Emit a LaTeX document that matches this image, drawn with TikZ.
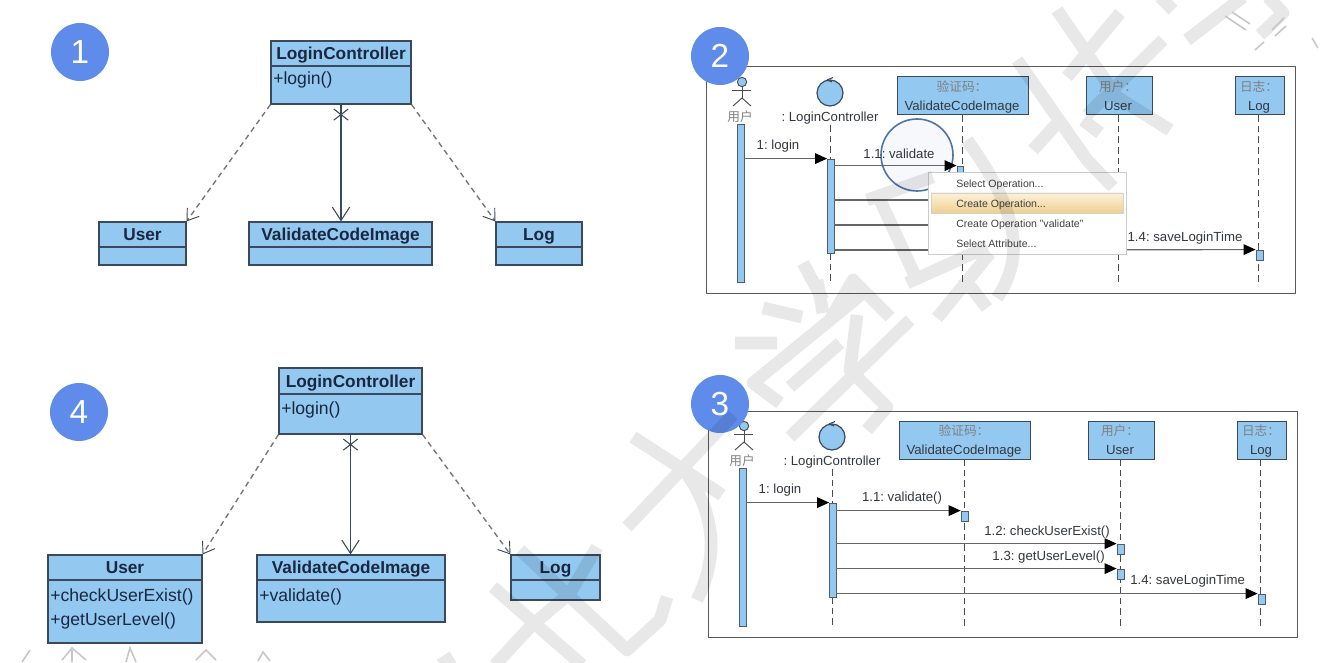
\documentclass[tikz,border=0pt]{standalone}
\usepackage{fontspec}
\setmainfont{Liberation Sans}
\newfontfamily\cjkfont{Noto Sans CJK SC}
\usetikzlibrary{arrows.meta,calc,shapes.misc}
\AtBeginDocument{\frenchspacing}
\definecolor{umlblue}{HTML}{93C9F0}
\definecolor{umlline}{HTML}{3A4A5C}
\definecolor{badgeblue}{HTML}{5F8BEA}
\definecolor{inkdark}{HTML}{1A2740}
\definecolor{inkseq}{HTML}{333740}
\definecolor{ringblue}{HTML}{4C74A8}
\tikzset{
  txtbox/.style={text height=.72em,text depth=.2em,yshift=-.8pt},
  classbox/.style={draw=umlline,fill=umlblue,line width=.85pt,inner sep=0pt},
  classtitle/.style={font=\fontsize{12.95}{14}\selectfont\bfseries,text=inkdark,inner sep=0pt,text height=.72em,text depth=.2em,yshift=-2.2pt},
  classop/.style={font=\fontsize{13.2}{14}\selectfont,text=inkdark,inner sep=0pt,anchor=west,text height=.72em,text depth=.2em,yshift=-2.2pt},
  badge/.style={circle,fill=badgeblue,minimum size=43.5pt,inner sep=0pt,text=white,font=\fontsize{25}{28}\selectfont},
  dep/.style={dash pattern=on 4pt off 3pt,draw=black!55,line width=1pt,-{Straight Barb[length=8pt,width=11pt,line width=.7pt,color=umlline]}},
  assoc/.style={draw=umlline,line width=.8pt,-{Straight Barb[length=10pt,width=13pt,line width=.8pt]}},
  navx/.style={cross out,draw=umlline,line width=.8pt,minimum width=10pt,minimum height=7.5pt,inner sep=0pt},
  seqframe/.style={draw=black!65,line width=.75pt,fill=white},
  seqbox/.style={draw=umlline,fill=umlblue,line width=.75pt,inner sep=0pt},
  seqlabel/.style={font=\fontsize{9.9}{12}\selectfont,text=inkseq,inner sep=0pt,txtbox},
  cjklabel/.style={font=\cjkfont\fontsize{9.5}{12}\selectfont,text=black!50,inner sep=0pt},
  lifeline/.style={dash pattern=on 5pt off 3pt,draw=black!70,line width=.7pt},
  actbar/.style={draw=umlline!90,fill=umlblue,line width=.6pt,inner sep=0pt},
  msg/.style={draw=black!60,line width=.85pt,-{Triangle[length=9pt,width=8pt,fill=black,color=black]}},
  msgplain/.style={draw=black!60,line width=.85pt},
  actorline/.style={draw=black!70,line width=.7pt},
  menuitem/.style={font=\fontsize{7.9}{9}\selectfont,text=black!75,inner sep=0pt,anchor=west,txtbox},
}
\newcommand{\rectnode}[6]{\node[#1,minimum width={(#5-#3)*0.75pt},minimum height={(#6-#4)*0.75pt}] (#2) at ({(#3+#5)/2},{(#4+#6)/2}) {};}
\newcommand{\classnode}[7]{%
  \rectnode{classbox}{#1}{#2}{#3}{#4}{#5}
  \draw[classbox] (#2,#6) -- (#4,#6);
  \node[classtitle] (#1t) at ({(#2+#4)/2},{(#3+#6)/2}) {#7};}
\newcommand{\seqcommon}[1]{%
  \rectnode{seqframe}{#1frame}{706}{67}{1295}{293}
  \node[circle,draw=black!70,fill=umlblue,line width=.7pt,minimum size=7pt,inner sep=0pt] (#1head) at (742,82) {};
  \coordinate (#1hip) at (742,98);
  \coordinate (#1armL) at (732,90);
  \coordinate (#1armR) at (751,90);
  \coordinate (#1legL) at (733,106);
  \coordinate (#1legR) at (751,106);
  \draw[actorline] (#1head.south) -- (#1hip);
  \draw[actorline] (#1armL) -- (#1armR);
  \draw[actorline] (#1legL) -- (#1hip) -- (#1legR);
  \node[cjklabel] (#1actor) at (740,117) {用户};
  \node[circle,draw=umlline,fill=umlblue,line width=.9pt,minimum size=19.5pt,inner sep=0pt] (#1lc) at (830,93) {};
  \draw[umlline,line width=.8pt] (827,80) -- (833,77.5) (827,80) -- (832,82);
  \node[seqlabel] (#1lct) at (830,117) {: LoginController};
  \rectnode{seqbox}{#1vci}{897}{77}{1028}{115}
  \rectnode{seqbox}{#1usr}{1086}{77}{1152}{115}
  \rectnode{seqbox}{#1log}{1235}{77}{1284}{115}
  \node[cjklabel] at (962,87) {验证码：};
  \node[seqlabel] at (962,106) {ValidateCodeImage};
  \node[cjklabel] at (1118,87) {用户：};
  \node[seqlabel] at (1118,106) {User};
  \node[cjklabel] at (1259,87) {日志：};
  \node[seqlabel] at (1259,106) {Log};
  \coordinate (#1lcend) at (830,283);
  \coordinate (#1vciend) at (962,283);
  \coordinate (#1usrend) at (1118,283);
  \coordinate (#1logend) at (1258,283);
  \coordinate (#1lcstart) at (830,125);
  \coordinate (#1vcistart) at (962,115);
  \coordinate (#1usrstart) at (1118,115);
  \coordinate (#1logstart) at (1258,115);
  \draw[lifeline] (#1lcstart) -- (#1lcend);
  \draw[lifeline] (#1vcistart) -- (#1vciend);
  \draw[lifeline] (#1usrstart) -- (#1usrend);
  \draw[lifeline] (#1logstart) -- (#1logend);
  \rectnode{actbar}{#1a1}{737}{124}{744}{282}
  \rectnode{actbar}{#1a2}{827.5}{159}{834}{253}
  \rectnode{actbar}{#1alog}{1256}{250}{1263}{260}
  \node[seqlabel] at (778,145) {1: login};
  \draw[msg] (#1a2.north west -| #1a1.east) -- (#1a2.north west);
}
\begin{document}
\begin{tikzpicture}[x=0.75pt,y=-0.75pt]
\useasboundingbox (0,0) rectangle (1328,663);
\fill[white] (0,0) rectangle (1328,663);

% --- diagram 1
\node[badge] (b1) at (80,52) {1};
\classnode{lcA}{271}{41}{411}{104}{66}{LoginController}
\node[classop] (lcAop) at (273,78) {+login()};
\classnode{usrA}{99}{222}{186}{265}{247}{User}
\classnode{vciA}{249}{222}{432}{265}{247}{ValidateCodeImage}
\classnode{logA}{496}{222}{582}{265}{247}{Log}
\node[navx] (xA) at ($(lcA.south)+(0,10)$) {};
\draw[assoc] (lcA.south) -- (lcA.south |- vciA.north);
\draw[dep] (lcA.south west) -- (usrA.north east);
\draw[dep] (lcA.south east) -- (logA.north west);

% --- diagram 4
\node[badge] (b4) at (79,412) {4};
\classnode{lcD}{279}{368}{422}{434}{394}{LoginController}
\node[classop] (lcDop) at (281,408) {+login()};
\classnode{usrD}{48}{555}{202}{643}{580}{User}
\node[classop] (usrDa) at (50,595) {+checkUserExist()};
\node[classop] (usrDb) at (50,619) {+getUserLevel()};
\classnode{vciD}{257}{555}{445}{622}{580}{ValidateCodeImage}
\node[classop] (vciDa) at (259,595) {+validate()};
\classnode{logD}{511}{555}{600}{600}{580}{Log}
\node[navx] (xD) at ($(lcD.south)+(0,10)$) {};
\draw[assoc] (lcD.south) -- (lcD.south |- vciD.north);
\draw[dep] (lcD.south west) -- (usrD.north east);
\draw[dep] (lcD.south east) -- (logD.north west);

% --- diagram 2
\seqcommon{p}
\node[circle,draw=ringblue,fill=ringblue!5,line width=1.2pt,minimum size=54pt,inner sep=0pt] (ring) at (917,155) {};
\rectnode{actbar}{pavci}{957}{166}{963}{176}
\node[seqlabel] at (899,154) {1.1: validate};
\draw[msg] (pavci.north west -| pa2.east) -- (pavci.north west);
\coordinate (pr2) at (1000,200);
\coordinate (pr3) at (1000,225);
\coordinate (pr4) at (1000,250);
\draw[msgplain] (pa2.east |- pr2) -- (pr2);
\draw[msgplain] (pa2.east |- pr3) -- (pr3);
\draw[msgplain] (pa2.east |- pr4) -- (pr4);
\draw[msg] (pr4) -- (palog.north west);
\node[seqlabel] at (1185,237) {1.4: saveLoginTime};
\rectnode{draw=black!20,fill=white,line width=.6pt}{menu}{928}{172}{1126}{254}
\definecolor{rowtop}{HTML}{FCF2DA}
\definecolor{rowbot}{HTML}{F0CF90}
\path[top color=rowtop,bottom color=rowbot,draw=black!18,line width=.4pt] (931,193) rectangle (1123,213);
\node[menuitem] (m1) at (956,183) {Select Operation...};
\node[menuitem] (m2) at (956,203) {Create Operation...};
\node[menuitem] (m3) at (956,223) {Create Operation "validate"};
\node[menuitem] (m4) at (956,243) {Select Attribute...};
\node[badge] (b2) at (720,56) {2};

% --- diagram 3
\begin{scope}[shift={(2,344)}]
\seqcommon{q}
\rectnode{actbar}{qavci}{959}{167}{966}{177}
\rectnode{actbar}{qaus1}{1115}{200}{1122}{210}
\rectnode{actbar}{qaus2}{1115}{225}{1122}{235}
\draw[msg] (qavci.north west -| qa2.east) -- (qavci.north west);
\draw[msg] (qaus1.north west -| qa2.east) -- (qaus1.north west);
\draw[msg] (qaus2.north west -| qa2.east) -- (qaus2.north west);
\draw[msg] (qalog.north west -| qa2.east) -- (qalog.north west);
\node[seqlabel] at (900,153) {1.1: validate()};
\node[seqlabel,anchor=east] at (1108,187) {1.2: checkUserExist()};
\node[seqlabel,anchor=east] at (1103,212) {1.3: getUserLevel()};
\node[seqlabel,anchor=west] at (1128,236) {1.4: saveLoginTime};
\end{scope}
\node[badge] (b3) at (720,404) {3};

% --- watermark strokes
\draw[draw=black,draw opacity=.09,line width=9.5pt,line join=round]
  (453,657) -- (440,665)
  (597,547) -- (570,593) -- (530,627) -- (495,665)
  (493,587) -- (582,665)
  (520,550) -- (627,650) -- (660,620) -- (667,597)
  (633,437) -- (722,495)
  (680,465) .. controls (712,505) and (722,550) .. (697,600)
  (733,415) -- (627,527)
  (763,308) -- (802,317)
  (735,343) -- (777,343)
  (863,293) -- (753,383) -- (780,403)
  (817,280) -- (823,313)
  (803,263) -- (823,300)
  (830,320) -- (853,280) -- (890,317)
  (857,315) -- (850,370) -- (887,407) -- (867,430)
  (840,343) -- (790,387)
  (910,320) -- (790,437) 
  (867,200) -- (933,177)
  (880,200) -- (917,280)
  (987,247) -- (907,283)
  (937,318) -- (990,253)
  (963,277) -- (987,308)
  (967,140) .. controls (1010,200) and (1030,250) .. (997,298)
  (1033,150) -- (1062,118)
  (1083,120) -- (1100,133)
  (1017,60) -- (1087,160) -- (1113,187)
  (1057,10) -- (1117,97) -- (1170,130)
  (1120,13) -- (1067,77)
  (1163,40) -- (1087,115)
  (1187,40) -- (1243,-3)
  (1160,-3) -- (1173,10)
  (1268,-3) -- (1283,13) -- (1260,35);
% --- faint seal marks
\draw[black!22,line width=1.2pt]
  (22,662) -- (30,650) (62,660) -- (72,648) -- (86,660) (72,650) -- (72,662)
  (126,662) -- (130,648) -- (136,662) (196,660) -- (206,650) -- (216,660)
  (258,661) -- (263,652) -- (270,661)
  (1225,16) -- (1246,30) (1232,12) -- (1250,24) (1272,30) -- (1284,18) (1275,36) -- (1286,26)
  (1255,50) -- (1264,42) (1312,38) -- (1318,48);
\end{tikzpicture}
\end{document}
